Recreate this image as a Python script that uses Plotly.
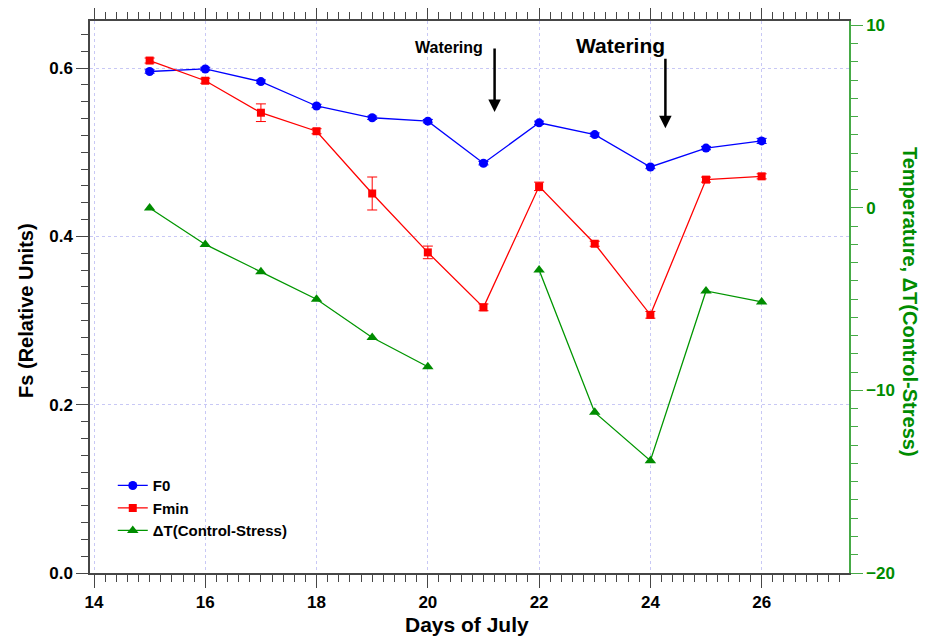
import plotly.graph_objects as go

days = [15, 16, 17, 18, 19, 20, 21, 22, 23, 24, 25, 26]
f0 = [0.596, 0.599, 0.584, 0.555, 0.541, 0.537, 0.487, 0.535, 0.521, 0.4825, 0.505, 0.5135]
f0_err = [0.002, 0.002, 0.002, 0.002, 0.002, 0.002, 0.002, 0.002, 0.002, 0.002, 0.002, 0.003]
fmin = [0.609, 0.585, 0.547, 0.525, 0.451, 0.381, 0.3157, 0.4595, 0.3913, 0.3068, 0.4675, 0.4714]
fmin_err = [0.003, 0.003, 0.0105, 0.003, 0.0196, 0.0075, 0.004, 0.005, 0.003, 0.004, 0.003, 0.003]
dT = [0.0, -2.0, -3.5, -5.0, -7.1, -8.7, None, -3.4, -11.2, -13.85, -4.55, -5.15]

FONT = "Liberation Sans, Arial, sans-serif"
GREEN = "rgb(0,140,0)"
GRID = "rgb(200,200,245)"
AX = "rgb(70,70,70)"

fig = go.Figure()
fig.add_trace(go.Scatter(
    x=days, y=f0, name="F0", mode="lines+markers",
    line=dict(color="rgb(0,0,255)", width=1.3),
    marker=dict(symbol="circle", size=9, color="rgb(0,0,255)"),
    error_y=dict(type="data", array=f0_err, color="rgb(0,0,255)", thickness=1, width=5),
))
fig.add_trace(go.Scatter(
    x=days, y=fmin, name="Fmin", mode="lines+markers",
    line=dict(color="rgb(255,0,0)", width=1.3),
    marker=dict(symbol="square", size=8, color="rgb(255,0,0)"),
    error_y=dict(type="data", array=fmin_err, color="rgb(255,0,0)", thickness=1, width=5),
))
fig.add_trace(go.Scatter(
    x=days, y=dT, name="ΔT(Control-Stress)", mode="lines+markers", yaxis="y2",
    line=dict(color="rgb(0,150,0)", width=1.3),
    marker=dict(symbol="triangle-up", size=10, color="rgb(0,140,0)"),
    connectgaps=False,
))

fig.update_layout(
    width=922, height=636,
    margin=dict(l=82, r=81, t=13, b=71),
    plot_bgcolor="white", paper_bgcolor="white",
    font=dict(family=FONT, color="black"),
    showlegend=True,
    legend=dict(x=0.030, y=0.188, xanchor="left", yanchor="top",
                bgcolor="rgba(0,0,0,0)", font=dict(size=15, weight="bold"),
                tracegroupgap=0, itemwidth=30),
    xaxis=dict(
        range=[13.928, 27.57], dtick=2, tick0=14, automargin=False,
        showline=True, linecolor=AX, linewidth=1.5, mirror="ticks",
        ticks="outside", ticklen=13, tickwidth=1.3, tickcolor=AX,
        minor=dict(dtick=0.2, ticks="outside", ticklen=7, tickcolor=AX, showgrid=False),
        showgrid=True, gridcolor=GRID, griddash="dot", gridwidth=1,
        zeroline=False,
        tickfont=dict(size=17, weight="bold"),
    ),
    yaxis=dict(
        range=[0, 0.656], dtick=0.2, tick0=0, tickformat=".1f", automargin=False,
        showline=True, linecolor=AX, linewidth=1.5,
        ticks="outside", ticklen=12, tickwidth=1.3, tickcolor=AX,
        minor=dict(dtick=0.02, ticks="outside", ticklen=7, tickcolor=AX, showgrid=False),
        showgrid=True, gridcolor=GRID, griddash="dot", gridwidth=1,
        zeroline=False,
        tickfont=dict(size=17, weight="bold"),
    ),
    yaxis2=dict(
        range=[-20, 10.24], dtick=10, tick0=0, automargin=False,
        overlaying="y", side="right",
        showline=True, linecolor="rgb(70,170,70)", linewidth=1.5,
        ticks="outside", ticklen=12, tickwidth=1.3, tickcolor="rgb(70,170,70)",
        minor=dict(dtick=1, ticks="outside", ticklen=7, tickcolor="rgb(70,170,70)", showgrid=False),
        showgrid=False, zeroline=False,
        tickfont=dict(size=17, weight="bold", color=GREEN),
    ),
    annotations=[
        dict(text="Fs (Relative Units)", textangle=-90,
             xref="paper", yref="paper", x=-0.0845, y=0.4746, xanchor="center", yanchor="middle",
             showarrow=False, font=dict(size=20, weight="bold")),
        dict(text="Temperature, ΔT(Control-Stress)", textangle=90,
             xref="paper", yref="paper", x=1.0804, y=0.491, xanchor="center", yanchor="middle",
             showarrow=False, font=dict(size=20, weight="bold", color=GREEN)),
        dict(text="Days of July",
             xref="paper", yref="paper", x=0.4967, y=-0.0924, xanchor="center", yanchor="middle",
             showarrow=False, font=dict(size=21, weight="bold")),
        dict(text="Watering", xref="x", yref="y", x=20.38, y=0.624, showarrow=False,
             font=dict(size=16, weight="bold")),
        dict(text="Watering", xref="x", yref="y", x=23.47, y=0.627, showarrow=False,
             font=dict(size=21, weight="bold")),
        dict(text="", xref="x", yref="y", x=21.2, y=0.548, axref="x", ayref="y",
             ax=21.2, ay=0.625, showarrow=True, arrowhead=2, arrowsize=1, arrowwidth=2.5,
             arrowcolor="black"),
        dict(text="", xref="x", yref="y", x=24.27, y=0.5286, axref="x", ayref="y",
             ax=24.27, ay=0.613, showarrow=True, arrowhead=2, arrowsize=1, arrowwidth=2.5,
             arrowcolor="black"),
    ],
)

fig.write_html("out.html")
